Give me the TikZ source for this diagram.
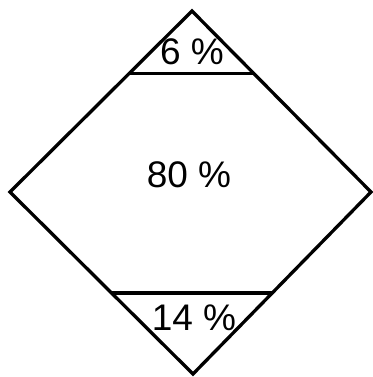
\documentclass[tikz,border=0pt]{standalone}
\usepackage{fontspec}
\setmainfont{Liberation Sans}
\usetikzlibrary{calc}
\begin{document}
\begin{tikzpicture}[x=1pt,y=-1pt,
  edge/.style={line width=3.3pt,line join=miter,line cap=butt},
  label/.style={font=\fontsize{37}{40}\selectfont,inner sep=0pt,anchor=center}]
\useasboundingbox (0,0) rectangle (372,377);
\coordinate (T) at (192,11);
\coordinate (L) at (10,192);
\coordinate (R) at (371,192);
\coordinate (B) at (193,374);
\draw[edge] (T) -- (R) -- (B) -- (L) -- cycle;
\coordinate (tl) at ($(T)!0.346!(L)$);
\coordinate (tr) at ($(T)!0.346!(R)$);
\coordinate (bl) at ($(B)!0.445!(L)$);
\coordinate (br) at ($(B)!0.445!(R)$);
\draw[edge] (tl) -- (tr);
\draw[edge] (bl) -- (br);
\node[label] (p6) at (192,52) {6 \%};
\node[label] (p80) at (189,175) {80 \%};
\node[label] (p14) at (194,318) {14 \%};
\end{tikzpicture}
\end{document}
